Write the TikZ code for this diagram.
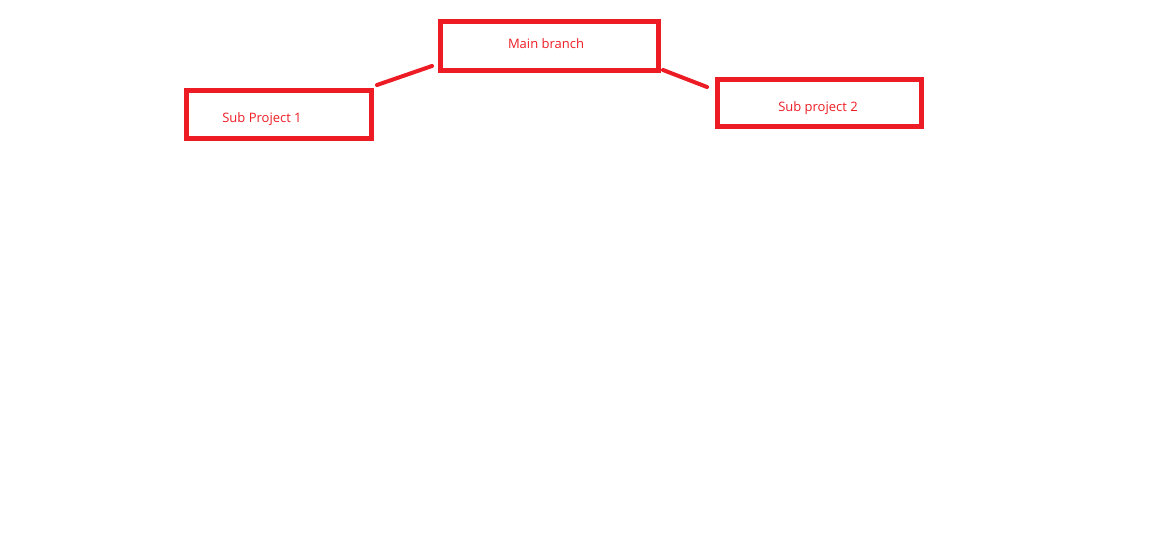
\documentclass[tikz,border=0pt]{standalone}
\usepackage{fontspec}
\setmainfont{Open Sans}
\usetikzlibrary{calc}
\definecolor{paintred}{RGB}{237,28,36}
\begin{document}
\begin{tikzpicture}[x=1bp,y=-1bp,
box/.style={draw=paintred, line width=4.6bp, inner sep=0pt, outer sep=0pt},
txt/.style={text=paintred, font=\fontsize{13bp}{15bp}\selectfont, inner sep=0pt, anchor=base},
link/.style={draw=paintred, line width=4bp, line cap=round}
]
\useasboundingbox (0,0) rectangle (1169,544);

\path
  (549.5,46) node[box, minimum width=218bp, minimum height=49bp] (main) {}
  (279,114.5) node[box, minimum width=185bp, minimum height=48bp] (sub1) {}
  (819.5,103) node[box, minimum width=204bp, minimum height=47bp] (sub2) {};

\node[txt] (maintxt) at (546,48.3) {Main branch};
\node[txt] (sub1txt) at (262,122.3) {Sub Project 1};
\node[txt] (sub2txt) at (818,111.7) {Sub project 2};

\draw[link] ($(sub1.north east)+(5.5,-5.5)$) -- ($(main.south west)+(-8.5,-4.5)$);
\draw[link] ($(main.south east)+(4.5,-0.5)$) -- ($(sub2.north west)+(-10.5,7.5)$);
%\draw[link] (main) -- (sub2);

\end{tikzpicture}
\end{document}
